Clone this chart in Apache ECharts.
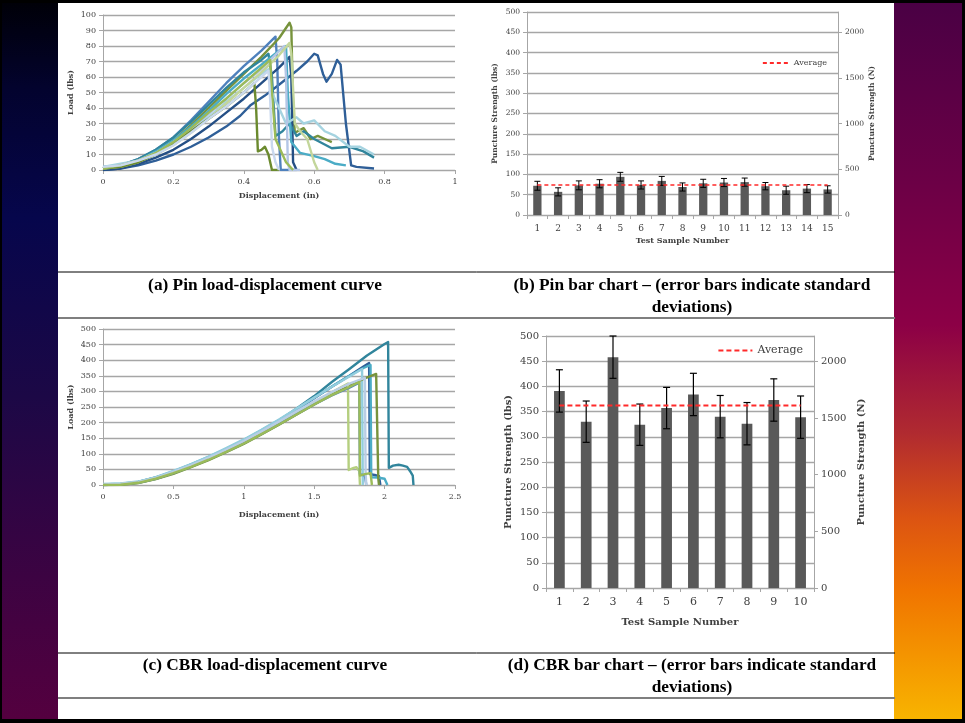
<!DOCTYPE html>
<html>
<head>
<meta charset="utf-8">
<script src="https://cdn.jsdelivr.net/npm/echarts@6/dist/echarts.min.js"></script>
<style>
  html, body { margin: 0; padding: 0; background: #000; }
  #chart { width: 965px; height: 723px; }
</style>
</head>
<body>
<div id="chart"></div>
<script>
// ---- data ----
// (a) pin load-displacement curves: [displacement in, load lbs]
var pinCurve1 = [[0,0],[0.05,1],[0.1,3],[0.15,6],[0.2,10],[0.25,15],[0.3,21],[0.35,28],[0.39,35],[0.42,42],[0.46,48],[0.5,55],[0.55,64],[0.58,70],[0.6,75],[0.61,74],[0.625,62],[0.635,57],[0.65,62],[0.665,71],[0.675,68],[0.69,30],[0.705,3],[0.72,2],[0.77,1]]
var pinCurve2 = [[0,1],[0.05,3],[0.1,7],[0.15,13],[0.2,21],[0.25,32],[0.3,44],[0.35,56],[0.4,67],[0.45,77],[0.49,86],[0.495,70],[0.5,20],[0.505,0],[0.55,0]]
var pinCurve3 = [[0,1],[0.05,3],[0.1,6],[0.15,11],[0.2,19],[0.25,29],[0.3,40],[0.35,51],[0.4,62],[0.45,73],[0.5,85],[0.53,95],[0.535,92],[0.54,40],[0.545,24],[0.57,27],[0.59,20],[0.61,22],[0.63,20],[0.65,18]]
var pinCurve4 = [[0,0],[0.05,1],[0.1,4],[0.15,8],[0.2,13],[0.25,20],[0.3,28],[0.35,37],[0.4,46],[0.45,56],[0.5,66],[0.53,73],[0.535,60],[0.54,5],[0.55,0]]
var pinCurve5 = [[0,2],[0.05,3],[0.1,7],[0.15,13],[0.2,21],[0.25,31],[0.3,42],[0.35,53],[0.4,63],[0.45,71],[0.47,75],[0.48,60],[0.49,22],[0.51,25],[0.53,30],[0.55,22],[0.57,25],[0.6,20],[0.65,14],[0.7,15],[0.74,12],[0.77,8]]
var pinCurve6 = [[0,1],[0.05,3],[0.1,6],[0.15,12],[0.2,19],[0.25,28],[0.3,38],[0.35,49],[0.4,59],[0.45,68],[0.5,77],[0.52,80],[0.525,50],[0.535,18],[0.56,11],[0.6,9],[0.63,7],[0.66,4],[0.69,3]]
var pinCurve7 = [[0,2],[0.05,4],[0.1,6],[0.15,11],[0.2,17],[0.25,25],[0.3,34],[0.35,44],[0.4,53],[0.45,62],[0.47,65],[0.48,50],[0.5,40],[0.52,30],[0.55,34],[0.57,30],[0.6,32],[0.63,25],[0.66,22],[0.7,15],[0.73,15],[0.77,10]]
var pinCurve8 = [[0,1],[0.05,3],[0.1,6],[0.15,11],[0.2,18],[0.25,26],[0.3,36],[0.35,46],[0.4,56],[0.45,65],[0.48,72],[0.515,80],[0.52,60],[0.525,5],[0.53,0],[0.56,0]]
var pinCurve9 = [[0,1],[0.05,2],[0.1,5],[0.15,10],[0.2,16],[0.25,24],[0.3,33],[0.35,43],[0.4,53],[0.45,63],[0.5,74],[0.53,82],[0.535,75],[0.545,30],[0.56,25],[0.58,20],[0.6,5],[0.61,0]]
var pinCurve10 = [[0,1],[0.05,2],[0.1,5],[0.15,10],[0.2,17],[0.25,25],[0.3,33],[0.35,41],[0.4,50],[0.43,56],[0.435,40],[0.44,12],[0.45,13],[0.46,15],[0.47,10],[0.48,0],[0.5,0]]
var pinCurve11 = [[0,1],[0.05,3],[0.1,6],[0.15,11],[0.2,18],[0.25,27],[0.3,37],[0.35,46],[0.4,56],[0.46,68],[0.475,71],[0.48,50],[0.49,20],[0.5,15],[0.52,5],[0.54,0]]
var pinCurve12 = [[0,2],[0.05,3],[0.1,6],[0.15,10],[0.2,16],[0.25,24],[0.3,33],[0.35,41],[0.4,50],[0.46,62],[0.47,64],[0.475,45],[0.48,15],[0.49,5],[0.5,0]]

// (c) CBR load-displacement curves
var cbrCurve1 = [[0,0],[0.125,2],[0.25,10],[0.375,24],[0.5,43],[0.625,65],[0.75,89],[0.875,115],[1.0,143],[1.125,174],[1.25,207],[1.375,245],[1.5,285],[1.625,330],[1.75,372],[1.875,415],[2.0,452],[2.025,458],[2.03,55],[2.06,62],[2.1,65],[2.13,62],[2.16,58],[2.18,45],[2.2,30],[2.205,0]]
var cbrCurve2 = [[0,0],[0.125,2],[0.25,8],[0.375,22],[0.5,40],[0.625,62],[0.75,86],[0.875,112],[1.0,140],[1.125,170],[1.25,203],[1.375,240],[1.5,278],[1.625,315],[1.75,350],[1.85,380],[1.89,391],[1.895,35],[1.93,32],[1.96,28],[1.97,0]]
var cbrCurve3 = [[0,2],[0.125,4],[0.25,10],[0.375,24],[0.5,44],[0.625,66],[0.75,90],[0.875,116],[1.0,144],[1.125,175],[1.25,208],[1.375,243],[1.5,280],[1.625,316],[1.75,350],[1.85,375],[1.9,385],[1.905,25],[1.95,24],[2.0,20],[2.02,0]]
var cbrCurve4 = [[0,3],[0.125,5],[0.25,11],[0.375,25],[0.5,45],[0.625,67],[0.75,91],[0.875,118],[1.0,146],[1.125,177],[1.25,210],[1.375,245],[1.5,280],[1.625,315],[1.75,348],[1.84,372],[1.845,0]]
var cbrCurve5 = [[0,0],[0.125,1],[0.25,6],[0.375,19],[0.5,36],[0.625,57],[0.75,80],[0.875,105],[1.0,132],[1.125,162],[1.25,193],[1.375,226],[1.5,258],[1.625,290],[1.75,318],[1.85,340],[1.94,356],[1.95,352],[1.955,22],[1.96,0]]
var cbrCurve6 = [[0,1],[0.125,3],[0.25,8],[0.375,22],[0.5,40],[0.625,61],[0.75,85],[0.875,110],[1.0,138],[1.125,168],[1.25,200],[1.375,233],[1.5,265],[1.625,297],[1.74,325],[1.745,48],[1.78,55],[1.8,57],[1.82,45],[1.825,0]]
var cbrCurve7 = [[0,0],[0.125,2],[0.25,7],[0.375,20],[0.5,38],[0.625,59],[0.75,82],[0.875,107],[1.0,134],[1.125,164],[1.25,195],[1.375,227],[1.5,258],[1.625,287],[1.75,312],[1.82,328],[1.825,35],[1.86,30],[1.87,0]]
var cbrCurve8 = [[0,2],[0.125,4],[0.25,9],[0.375,23],[0.5,42],[0.625,63],[0.75,87],[0.875,113],[1.0,141],[1.125,171],[1.25,203],[1.375,236],[1.5,268],[1.625,298],[1.75,325],[1.86,343],[1.865,40],[1.87,0]]
var cbrCurve9 = [[0,0],[0.125,1],[0.25,7],[0.375,20],[0.5,38],[0.625,58],[0.75,81],[0.875,106],[1.0,133],[1.125,163],[1.25,194],[1.375,226],[1.5,258],[1.625,288],[1.75,314],[1.82,330],[1.825,30],[1.86,35],[1.9,38],[1.91,0]]

// (b) pin bar chart
var pinSamples = ['1','2','3','4','5','6','7','8','9','10','11','12','13','14','15']
var pinStrength = [72, 57, 73, 77, 94, 74, 84, 69, 78, 80, 81, 71, 61, 65, 63]
var pinStdDev = [11, 10, 11, 10, 11, 10, 11, 10, 10, 10, 10, 9, 10, 10, 9]
var pinAverage = 74

// (d) CBR bar chart
var cbrSamples = ['1','2','3','4','5','6','7','8','9','10']
var cbrStrength = [391, 330, 458, 324, 357, 384, 340, 326, 373, 339]
var cbrStdDev = [42, 41, 42, 41, 41, 42, 42, 42, 42, 42]
var cbrAverage = 362

var LBS_TO_N = 4.448

var pinCurves = [pinCurve1, pinCurve2, pinCurve3, pinCurve4, pinCurve5, pinCurve6, pinCurve7, pinCurve8, pinCurve9, pinCurve10, pinCurve11, pinCurve12]
var pinColors = ['#2f5f98', '#4f81bd', '#77933c', '#254f85', '#31859c', '#4bacc6', '#a5d3e0', '#b4c6e6', '#c3d69b', '#6b8a2e', '#9bbb59', '#c9d8ee']
var cbrCurves = [cbrCurve1, cbrCurve2, cbrCurve3, cbrCurve4, cbrCurve5, cbrCurve6, cbrCurve7, cbrCurve8, cbrCurve9]
var cbrColors = ['#31859c', '#2f5f98', '#4bacc6', '#93cddd', '#77933c', '#b5cf7f', '#4f81bd', '#b9cde5', '#9bbb59']

var serif = 'DejaVu Serif'
var txt = '#404040'
var gridGray = '#a6a6a6'

function valueX(grid, max, interval, name, size, gap) {
  return {
    type: 'value', gridIndex: grid, min: 0, max: max, interval: interval,
    name: name, nameLocation: 'middle', nameGap: gap,
    nameTextStyle: { fontFamily: serif, fontWeight: 'bold', fontSize: size, color: txt },
    axisLine: { show: true, lineStyle: { color: gridGray } },
    axisTick: { show: true, length: 4, lineStyle: { color: gridGray } },
    axisLabel: { fontFamily: serif, fontSize: size, color: txt, margin: 8 },
    splitLine: { show: false }
  }
}
function valueY(grid, max, interval, name, size, gap, pos) {
  return {
    type: 'value', gridIndex: grid, min: 0, max: max, interval: interval,
    position: pos || 'left',
    name: name, nameLocation: 'middle', nameGap: gap, nameRotate: 90,
    nameTextStyle: { fontFamily: serif, fontWeight: 'bold', fontSize: size, color: txt },
    axisLine: { show: true, lineStyle: { color: gridGray } },
    axisTick: { show: true, length: 4, inside: false, lineStyle: { color: gridGray } },
    axisLabel: { fontFamily: serif, fontSize: size, color: txt, margin: 7,
      formatter: function (v) { return String(v) } },
    splitLine: { show: true, lineStyle: { color: gridGray, width: 1.3 } }
  }
}
function catX(grid, data, name, size, gap) {
  return {
    type: 'category', gridIndex: grid, data: data,
    name: name, nameLocation: 'middle', nameGap: gap,
    nameTextStyle: { fontFamily: serif, fontWeight: 'bold', fontSize: size, color: txt },
    axisLine: { show: true, lineStyle: { color: gridGray } },
    axisTick: { show: true, length: 4, lineStyle: { color: gridGray } },
    axisLabel: { fontFamily: serif, fontSize: size + 1, color: txt, margin: 9 }
  }
}
function rightY(grid, size, gap, name) {
  var ax = valueY(grid, 500 * LBS_TO_N, 500, name, size, gap, 'right')
  ax.splitLine = { show: false }
  ax.axisLabel.showMaxLabel = false
  return ax
}

function errorSeries(xi, yi, values, errs, cap, width) {
  var data = values.map(function (v, i) { return [i, v - errs[i], v + errs[i]] })
  return {
    type: 'custom', xAxisIndex: xi, yAxisIndex: yi, data: data, z: 5,
    renderItem: function (params, api) {
      var lo = api.coord([api.value(0), api.value(1)])
      var hi = api.coord([api.value(0), api.value(2)])
      var st = { stroke: '#000', lineWidth: width }
      return {
        type: 'group', children: [
          { type: 'line', shape: { x1: lo[0], y1: lo[1], x2: hi[0], y2: hi[1] }, style: st },
          { type: 'line', shape: { x1: lo[0] - cap, y1: lo[1], x2: lo[0] + cap, y2: lo[1] }, style: st },
          { type: 'line', shape: { x1: hi[0] - cap, y1: hi[1], x2: hi[0] + cap, y2: hi[1] }, style: st }
        ]
      }
    }
  }
}

var series = []
pinCurves.forEach(function (c, i) {
  series.push({ type: 'line', xAxisIndex: 0, yAxisIndex: 0, data: c, symbol: 'none',
    lineStyle: { color: pinColors[i], width: 2.4, join: 'round' }, itemStyle: { color: pinColors[i] } })
})
cbrCurves.forEach(function (c, i) {
  series.push({ type: 'line', xAxisIndex: 2, yAxisIndex: 3, data: c, symbol: 'none',
    lineStyle: { color: cbrColors[i], width: 2.4, join: 'round' }, itemStyle: { color: cbrColors[i] } })
})
series.push({ type: 'bar', xAxisIndex: 1, yAxisIndex: 1, data: pinStrength, barWidth: '40%',
  itemStyle: { color: '#595959' } })
series.push(errorSeries(1, 1, pinStrength, pinStdDev, 3, 1))
series.push({ name: 'Average', type: 'line', xAxisIndex: 1, yAxisIndex: 1, symbol: 'none', z: 6,
  data: pinSamples.map(function () { return pinAverage }),
  lineStyle: { color: '#ff2a2a', type: [4, 3], width: 1.5 }, itemStyle: { color: '#ff2a2a' } })
series.push({ type: 'bar', xAxisIndex: 3, yAxisIndex: 4, data: cbrStrength, barWidth: '40%',
  itemStyle: { color: '#595959' } })
series.push(errorSeries(3, 4, cbrStrength, cbrStdDev, 3.5, 1.2))
series.push({ name: 'Average (CBR)', type: 'line', xAxisIndex: 3, yAxisIndex: 4, symbol: 'none', z: 6,
  data: cbrSamples.map(function () { return cbrAverage }),
  lineStyle: { color: '#ff2a2a', type: [5, 3], width: 2 }, itemStyle: { color: '#ff2a2a' } })

var capFont = 'bold 17.3px "Liberation Serif"'
function caption(x, y, s) {
  return { type: 'text', x: x, y: y, style: { text: s, font: capFont, fill: '#000', textAlign: 'center', textVerticalAlign: 'middle' } }
}
function hline(y, color, w) {
  return { type: 'line', shape: { x1: 58, y1: y, x2: 895, y2: y }, style: { stroke: color, lineWidth: w } }
}

var chart = echarts.init(document.getElementById('chart'))
chart.setOption({
  animation: false,
  backgroundColor: '#000',
  graphic: [
    { type: 'rect', z: -10, shape: { x: 2, y: 3, width: 56, height: 716 },
      style: { fill: new echarts.graphic.LinearGradient(0, 0, 0, 1, [
        { offset: 0, color: '#000008' }, { offset: 0.12, color: '#03032e' }, { offset: 0.3, color: '#06064c' },
        { offset: 0.55, color: '#1c0846' }, { offset: 0.8, color: '#3c0342' }, { offset: 1, color: '#54003f' }]) } },
    { type: 'rect', z: -10, shape: { x: 894, y: 3, width: 68, height: 716 },
      style: { fill: new echarts.graphic.LinearGradient(0, 0, 0, 1, [
        { offset: 0, color: '#4a0044' }, { offset: 0.25, color: '#6c0046' }, { offset: 0.45, color: '#8c0046' },
        { offset: 0.6, color: '#b02a30' }, { offset: 0.72, color: '#dc5412' }, { offset: 0.82, color: '#f07400' },
        { offset: 1, color: '#f8b400' }]) } },
    { type: 'rect', z: -10, shape: { x: 58, y: 3, width: 836, height: 716 }, style: { fill: '#fff' } },
    hline(272, '#000', 1),
    hline(318, '#7f7f7f', 2),
    hline(653, '#000', 1),
    hline(698, '#7f7f7f', 2),
    caption(265, 286, '(a) Pin load-displacement curve'),
    caption(692, 286, '(b) Pin bar chart \u2013 (error bars indicate standard'),
    caption(692, 308, 'deviations)'),
    caption(265, 666, '(c) CBR load-displacement curve'),
    caption(692, 666, '(d) CBR bar chart \u2013 (error bars indicate standard'),
    caption(692, 688, 'deviations)')
  ],
  legend: [
    { data: ['Average'], right: 965 - 832, top: 54, itemWidth: 26, itemHeight: 10, itemGap: 4,
      itemStyle: { opacity: 0 },
      textStyle: { fontFamily: serif, fontSize: 8, color: txt } },
    { data: ['Average (CBR)'], right: 965 - 808, top: 340, itemWidth: 34, itemHeight: 12, itemGap: 4,
      itemStyle: { opacity: 0 },
      formatter: function () { return 'Average' },
      textStyle: { fontFamily: serif, fontSize: 11, color: txt } }
  ],
  grid: [
    { left: 103, right: 965 - 455, top: 15, bottom: 723 - 170 },
    { left: 527, right: 965 - 838, top: 12, bottom: 723 - 215 },
    { left: 103, right: 965 - 455, top: 329, bottom: 723 - 485 },
    { left: 546, right: 965 - 814, top: 336, bottom: 723 - 588 }
  ],
  xAxis: [
    valueX(0, 1, 0.2, 'Displacement (in)', 8, 22),
    catX(1, pinSamples, 'Test Sample Number', 8, 22),
    valueX(2, 2.5, 0.5, 'Displacement (in)', 8, 26),
    catX(3, cbrSamples, 'Test Sample Number', 10, 29)
  ],
  yAxis: [
    valueY(0, 100, 10, 'Load (lbs)', 8, 28),
    valueY(1, 500, 50, 'Puncture Strength (lbs)', 7.5, 28),
    rightY(1, 7.5, 30, 'Puncture Strength (N)'),
    valueY(2, 500, 50, 'Load (lbs)', 8, 28),
    valueY(3, 500, 50, 'Puncture Strength (lbs)', 10, 33),
    rightY(3, 10, 42, 'Puncture Strength (N)')
  ],
  series: series
})
</script>
</body>
</html>
